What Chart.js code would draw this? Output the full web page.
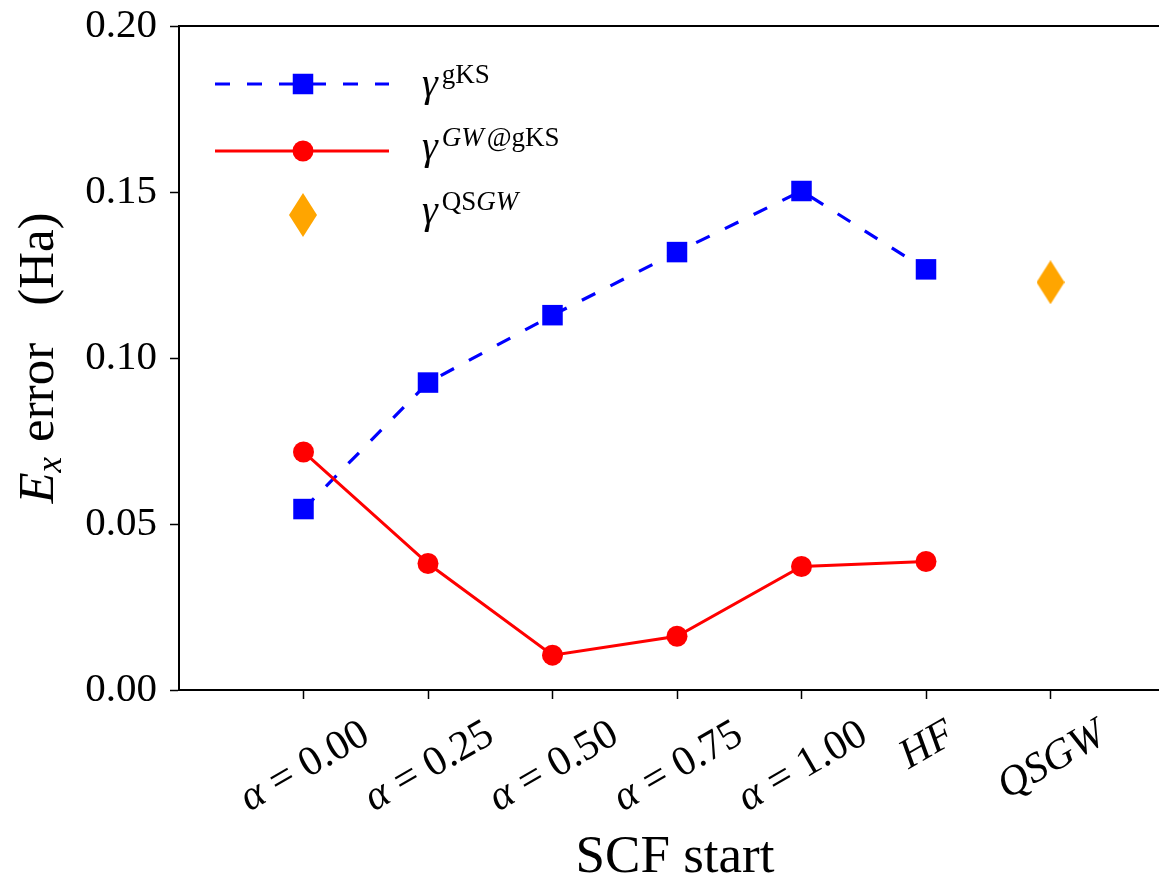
<!DOCTYPE html>
<html>
<head>
<meta charset="utf-8">
<script src="https://cdn.jsdelivr.net/npm/chart.js@4.4.0/dist/chart.umd.min.js"></script>
<style>
  html, body { margin: 0; padding: 0; background: #fff; overflow: hidden; }
  canvas { display: block; }
</style>
</head>
<body>
<canvas id="chart" width="1176" height="878"></canvas>
<script>
// SCF starting points along the x axis
const scfStarts = ['α = 0.00', 'α = 0.25', 'α = 0.50', 'α = 0.75', 'α = 1.00', 'HF', 'QSGW']

// E_x error (Ha)
const gksError = [0.0545, 0.0926, 0.1129, 0.1319, 0.1503, 0.1267]
const gwError = [0.0717, 0.0381, 0.0105, 0.0162, 0.0372, 0.0387]
const qsgwError = [0.1228] // sits on the last category (QSGW)

// y axis ticks
const yTicks = [0.00, 0.05, 0.10, 0.15, 0.20]

const SERIF = '"Liberation Serif", "Times New Roman", serif'
const BLUE = '#0000ff'
const RED = '#ff0000'
const ORANGE = '#ffa500'
const ANGLE = 30 * Math.PI / 180

const font = (size, italic) => (italic ? 'italic ' : '') + size + 'px ' + SERIF

// matplotlib-like thin diamond marker
function thinDiamond(w, h, color) {
    let c = document.createElement('canvas')
    c.width = w
    c.height = h
    let g = c.getContext('2d')
    g.fillStyle = color
    g.beginPath()
    g.moveTo(w / 2, 0)
    g.lineTo(w, h / 2)
    g.lineTo(w / 2, h)
    g.lineTo(0, h / 2)
    g.closePath()
    g.fill()
    return c
}
const diamond = thinDiamond(28, 44, ORANGE)

// text made of several pieces (italic / sub / superscripts)
function richWidth(ctx, segs) {
    let w = 0
    segs.forEach((s) => {
        ctx.font = s.f
        w += ctx.measureText(s.t).width + (s.gap || 0)
    })
    return w
}
function drawRich(ctx, segs, x, y) {
    segs.forEach((s) => {
        ctx.font = s.f
        ctx.fillText(s.t, x, y + (s.dy || 0))
        x += ctx.measureText(s.t).width + (s.gap || 0)
    })
}

// legend entries: line sample, marker and label pieces
const legendRows = [
    { lineY: 84, base: 96, color: BLUE, dash: [15, 17], marker: 'rect',
      sup: [{ t: 'gKS', f: font(27) }] },
    { lineY: 151, base: 159, color: RED, dash: [], marker: 'circle',
      sup: [{ t: 'GW', f: font(27, true), gap: 3 }, { t: '@gKS', f: font(27) }] },
    { lineY: 215, base: 223, color: ORANGE, dash: null, marker: 'diamond',
      sup: [{ t: 'QS', f: font(27) }, { t: 'GW', f: font(27, true) }] },
]

const decorations = {
    id: 'decorations',
    afterDraw(chart) {
        let ctx = chart.ctx
        let area = chart.chartArea
        let xs = chart.scales.x
        ctx.save()

        // top and right spines
        ctx.strokeStyle = '#000'
        ctx.lineWidth = 2
        ctx.beginPath()
        ctx.moveTo(area.left, area.top)
        ctx.lineTo(area.right, area.top)
        ctx.lineTo(area.right, area.bottom)
        ctx.stroke()

        ctx.fillStyle = '#000'
        ctx.textAlign = 'left'
        ctx.textBaseline = 'alphabetic'

        // rotated x tick labels, centred under each tick
        scfStarts.forEach((lab, i) => {
            let segs = lab.startsWith('α')
                ? [{ t: 'α', f: font(42, true), gap: 11 },
                   { t: '=', f: font(42), gap: 11 },
                   { t: lab.split('=')[1].trim(), f: font(42) }]
                : [{ t: lab, f: font(42, true) }]
            let w = richWidth(ctx, segs)
            let h = 28
            let boxH = w * Math.sin(ANGLE) + h * Math.cos(ANGLE)
            let cx = xs.getPixelForValue(i)
            let cy = area.bottom + 27 + boxH / 2
            ctx.save()
            ctx.translate(cx, cy)
            ctx.rotate(-ANGLE)
            drawRich(ctx, segs, -w / 2, h / 2)
            ctx.restore()
        })

        // x axis title
        ctx.font = font(53)
        ctx.textAlign = 'center'
        ctx.fillText('SCF start', (area.left + area.right) / 2 - 2, 872)
        ctx.textAlign = 'left'

        // y axis title: E_x error (Ha)
        let ySegs = [
            { t: 'E', f: font(51, true) },
            { t: 'x', f: font(35, true), dy: 8, gap: 15 },
            { t: 'error', f: font(51), gap: 37 },
            { t: '(Ha)', f: font(51) },
        ]
        let yw = richWidth(ctx, ySegs)
        ctx.save()
        ctx.translate(53, (area.top + area.bottom) / 2)
        ctx.rotate(-Math.PI / 2)
        drawRich(ctx, ySegs, -yw / 2, 0)
        ctx.restore()

        // legend
        legendRows.forEach((row) => {
            if (row.dash) {
                ctx.strokeStyle = row.color
                ctx.lineWidth = 3.2
                ctx.setLineDash(row.dash)
                ctx.beginPath()
                ctx.moveTo(215, row.lineY)
                ctx.lineTo(389, row.lineY)
                ctx.stroke()
                ctx.setLineDash([])
            }
            ctx.fillStyle = row.color
            if (row.marker === 'rect') {
                ctx.fillRect(303 - 10.25, row.lineY - 10.25, 20.5, 20.5)
            } else if (row.marker === 'circle') {
                ctx.beginPath()
                ctx.arc(303, row.lineY, 10.5, 0, Math.PI * 2)
                ctx.fill()
            } else {
                ctx.drawImage(diamond, 303 - diamond.width / 2, row.lineY - diamond.height / 2)
            }
            ctx.fillStyle = '#000'
            ctx.font = font(40, true)
            ctx.fillText('γ', 422, row.base)
            let gx = 422 + ctx.measureText('γ').width + 4
            drawRich(ctx, row.sup, gx, row.base - 13)
        })

        ctx.restore()
    }
}

const axisGrid = {
    drawOnChartArea: false,
    drawTicks: true,
    tickLength: 9,
    color: '#000',
    tickWidth: 1.5,
}

const chart = new Chart(document.getElementById('chart'), {
    type: 'line',
    data: {
        datasets: [
            {
                label: 'gKS',
                data: gksError.map((v, i) => ({ x: i, y: v })),
                borderColor: BLUE,
                backgroundColor: BLUE,
                borderWidth: 3.2,
                borderDash: [15, 17],
                pointStyle: 'rect',
                pointRadius: 14.5,
                pointBorderWidth: 0,
                pointBackgroundColor: BLUE,
                order: 2,
            },
            {
                label: 'GW@gKS',
                data: gwError.map((v, i) => ({ x: i, y: v })),
                borderColor: RED,
                backgroundColor: RED,
                borderWidth: 3,
                pointStyle: 'circle',
                pointRadius: 10.5,
                pointBorderWidth: 0,
                pointBackgroundColor: RED,
                order: 1,
            },
            {
                label: 'QSGW',
                data: qsgwError.map((v) => ({ x: scfStarts.length - 1, y: v })),
                showLine: false,
                pointStyle: diamond,
                pointRadius: 14,
                backgroundColor: ORANGE,
                order: 0,
            },
        ]
    },
    options: {
        responsive: false,
        animation: false,
        events: [],
        layout: { autoPadding: false, padding: { top: 26, right: 1, left: 0, bottom: 0 } },
        plugins: {
            legend: { display: false },
            tooltip: { enabled: false },
        },
        scales: {
            x: {
                type: 'linear',
                min: -1,
                max: scfStarts.length,
                afterBuildTicks: (s) => { s.ticks = scfStarts.map((_, i) => ({ value: i })) },
                afterFit: (s) => { s.height = 188; s.paddingLeft = 0; s.paddingRight = 0 },
                ticks: { display: false },
                grid: axisGrid,
                border: { color: '#000', width: 2 },
            },
            y: {
                min: 0,
                max: 0.2,
                afterBuildTicks: (s) => { s.ticks = yTicks.map((v) => ({ value: v })) },
                afterFit: (s) => { s.width = 179; s.paddingTop = 0; s.paddingBottom = 0 },
                ticks: {
                    callback: (v) => v.toFixed(2),
                    font: { family: SERIF, size: 41 },
                    color: '#000',
                    padding: 13,
                },
                grid: axisGrid,
                border: { color: '#000', width: 2 },
            },
        },
    },
    plugins: [decorations],
})
</script>
</body>
</html>
